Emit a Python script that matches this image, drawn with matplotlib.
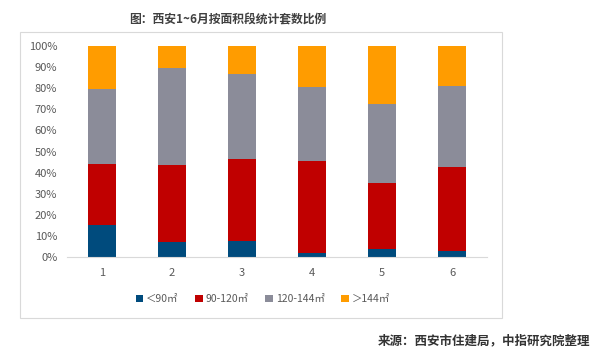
import numpy as np
import matplotlib
matplotlib.use('Agg')
import matplotlib.pyplot as plt
from matplotlib.patches import Rectangle, Patch

plt.rcParams['font.family'] = ['Noto Sans CJK SC', 'DejaVu Sans']

# 数据：各面积段占比（%）
months = ['1', '2', '3', '4', '5', '6']
labels = ['＜90㎡', '90-120㎡', '120-144㎡', '＞144㎡']
lt90 = [15.2, 7.1, 7.7, 1.7, 3.8, 3.0]
s90_120 = [28.9, 36.5, 38.7, 43.8, 31.4, 39.8]
s120_144 = [35.4, 45.8, 40.3, 34.9, 37.3, 38.2]
gt144 = [20.5, 10.6, 13.3, 19.6, 27.5, 19.0]
colors = ['#004B7D', '#C00000', '#8B8C99', '#FF9C00']

W, H = 597, 360
fig = plt.figure(figsize=(W / 100, H / 100), dpi=100)

# 图表外框
fig.patches.append(Rectangle((20 / W, 1 - 318 / H), 482 / W, 286 / H,
                             transform=fig.transFigure, fill=False,
                             edgecolor='#D9D9D9', linewidth=0.8))

ax = fig.add_axes([67 / W, 1 - 257 / H, 420 / W, 211 / H])

x = np.arange(len(months))
bottom = np.zeros(len(months))
series = [lt90, s90_120, s120_144, gt144]
for vals, c in zip(series, colors):
    vals = np.array(vals) / 100
    ax.bar(x, vals, width=0.4, bottom=bottom, color=c)
    bottom += vals

ax.set_xlim(-0.5, 5.5)
ax.set_ylim(0, 1)
ax.set_yticks(np.arange(0, 1.01, 0.1))
ax.set_yticklabels(['{}%'.format(int(round(v * 100))) for v in np.arange(0, 1.01, 0.1)])
ax.set_xticks(x)
ax.set_xticklabels(months)
for s in ['top', 'right', 'left']:
    ax.spines[s].set_visible(False)
ax.spines['bottom'].set_color('#D9D9D9')
ax.tick_params(axis='both', length=0, labelsize=8, colors='#595959')
ax.tick_params(axis='y', pad=7)
ax.tick_params(axis='x', pad=8)

# 标题
fig.text(228 / W, 1 - 20 / H, '图：西安1~6月按面积段统计套数比例', ha='center', va='center',
         fontsize=8.5, fontweight='bold', color='#404040')

# 图例
handles = [Patch(facecolor=c, label=l) for c, l in zip(colors, labels)]
fig.legend(handles=handles, loc='center', bbox_to_anchor=(263 / W, 1 - 299 / H), ncol=4,
           frameon=False, fontsize=7.5, handlelength=0.7, handleheight=0.7,
           handletextpad=0.3, columnspacing=1.6, labelcolor='#595959')

# 来源
fig.text(590 / W, 1 - 341 / H, '来源：西安市住建局，中指研究院整理', ha='right', va='center',
         fontsize=9, fontweight='bold', color='#333333')

fig.savefig('out.png', dpi=100)
